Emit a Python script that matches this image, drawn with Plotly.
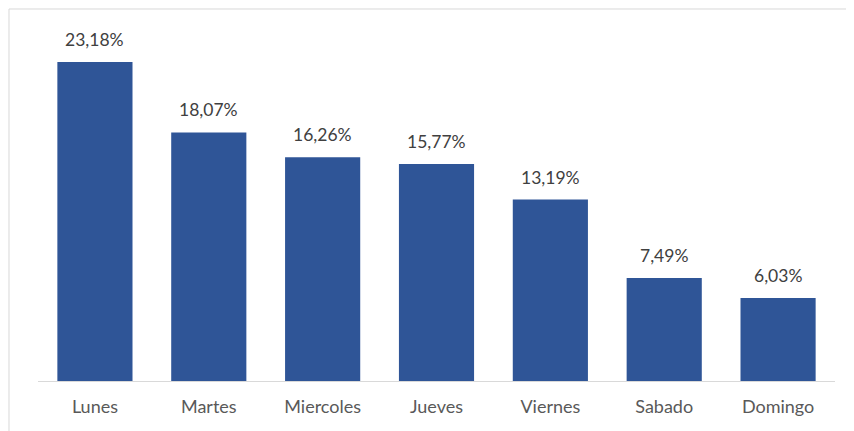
import plotly.graph_objects as go

dias = ["Lunes", "Martes", "Miercoles", "Jueves", "Viernes", "Sabado", "Domingo"]
porcentajes = [23.18, 18.07, 16.26, 15.77, 13.19, 7.49, 6.03]
etiquetas = ["23,18%", "18,07%", "16,26%", "15,77%", "13,19%", "7,49%", "6,03%"]

fig = go.Figure()
fig.add_trace(go.Bar(
    x=dias, y=porcentajes,
    marker=dict(color="#2F5597", line=dict(width=0)),
    width=0.66, hoverinfo="skip",
))

for d, v, t in zip(dias, porcentajes, etiquetas):
    fig.add_annotation(x=d, y=v, text=t, showarrow=False, yanchor="bottom",
                       yshift=10, font=dict(family="Lato", size=17.5, color="#404040"))

fig.update_layout(
    width=846, height=423,
    margin=dict(l=30, r=19, t=12, b=50),
    paper_bgcolor="white", plot_bgcolor="white",
    showlegend=False,
    bargap=0.34,
    xaxis=dict(showline=True, linecolor="#D9D9D9", linewidth=1, ticks="outside",
               ticklen=9, tickcolor="rgba(0,0,0,0)",
               tickfont=dict(family="Lato", size=18, color="#595959"),
               showgrid=False, fixedrange=True),
    yaxis=dict(range=[0, 26.24], visible=False, showgrid=False, fixedrange=True),
    shapes=[
        dict(type="line", xref="paper", yref="paper", x0=-0.0364, x1=1.03, y0=1.0305, y1=1.0305,
             line=dict(color="#D9D9D9", width=1)),
        dict(type="line", xref="paper", yref="paper", x0=-0.0364, x1=-0.0364, y0=-0.2, y1=1.0305,
             line=dict(color="#D9D9D9", width=1)),
    ],
)

fig.write_html("out.html")
